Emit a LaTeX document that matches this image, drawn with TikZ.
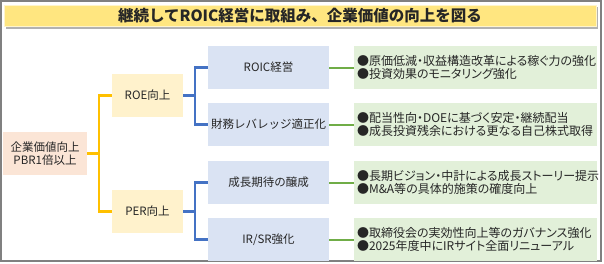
\documentclass[tikz,border=0pt]{standalone}
\usepackage{fontspec}
\setmainfont{Noto Sans CJK JP}
\newfontfamily\notefont{Noto Sans CJK JP}[RawFeature=+palt]
\usepackage{tikz}
\usetikzlibrary{shadows}
\definecolor{frame}{HTML}{808080}
\definecolor{titlefill}{HTML}{FFE680}
\definecolor{topfill}{HTML}{FBE5D6}
\definecolor{midfill}{HTML}{FFF2CC}
\definecolor{subfill}{HTML}{DAE3F3}
\definecolor{notefill}{HTML}{E2F0D9}
\definecolor{orangeln}{HTML}{FFC000}
\definecolor{blueln}{HTML}{4472C4}
\definecolor{greenln}{HTML}{70AD47}
\definecolor{ink}{HTML}{262626}

\begin{document}
\begin{tikzpicture}[x=1pt, y=-1pt, text=ink, font=\fontsize{11.5}{13.5}\selectfont,
  box/.style={inner sep=1pt, minimum height=43pt, align=center},
  topbox/.style={box, fill=topfill, minimum width=84pt},
  midbox/.style={box, fill=midfill, minimum width=71pt},
  subbox/.style={box, fill=subfill, minimum width=121pt},
  notebox/.style={box, fill=notefill, minimum width=243pt, align=left, text width=237pt,
    font=\notefont\fontsize{12}{13.5}\selectfont},
  oline/.style={draw=orangeln, line width=2.4pt},
  bline/.style={draw=blueln, line width=2.4pt},
  gline/.style={draw=greenln, line width=2pt}]
\path[use as bounding box] (0,0) rectangle (604,263);
\draw[frame, line width=1.2pt] (1,1) rectangle (601,261);
\node[fill=titlefill, draw=titlefill!40, line width=0.8pt, minimum width=592pt, minimum height=20pt,
  drop shadow={shadow xshift=2pt, shadow yshift=-2pt, fill=black!30, opacity=1},
  font=\fontsize{15.5}{17}\selectfont\bfseries] (title) at (300,16) {継続してROIC経営に取組み、企業価値の向上を図る};

\node[topbox] (pbr) at (45,153.5) {企業価値向上\\PBR1倍以上};
\node[midbox] (roe) at (147.5,95.5) {ROE向上};
\node[midbox] (per) at (147.5,211.5) {PER向上};

\node[subbox] (roic) at (268.5,67.5) {ROIC経営};
\node[subbox] (lev) at (268.5,124.5) {財務レバレッジ適正化};
\node[subbox] (grow) at (268.5,182.5) {成長期待の醸成};
\node[subbox] (irsr) at (268.5,239.5) {IR/SR強化};

\node[notebox] (roicnote) at (475.5,67.5) {●原価低減・収益構造改革による稼ぐ力の強化\\●投資効果のモニタリング強化};
\node[notebox] (levnote) at (475.5,124.5) {●配当性向・DOEに基づく安定・継続配当\\●成長投資残余における更なる自己株式取得};
\node[notebox] (grownote) at (475.5,182.5) {●長期ビジョン・中計による成長ストーリー提示\\●M\&A等の具体的施策の確度向上};
\node[notebox] (irsrnote) at (475.5,239.5) {●取締役会の実効性向上等のガバナンス強化\\●2025年度中にIRサイト全面リニューアル};

% tree connectors
\draw[oline] (pbr.east) -- ++(12,0) |- (roe.west);
\draw[oline] (pbr.east) -- ++(12,0) |- (per.west);
\draw[bline] (roe.east) -- ++(12,0) |- (roic.west);
\draw[bline] (roe.east) -- ++(12,0) |- (lev.west);
\draw[bline] (per.east) -- ++(12,0) |- (grow.west);
\draw[bline] (per.east) -- ++(12,0) |- (irsr.west);
\draw[gline] (roic.east) -- (roicnote.west);
\draw[gline] (lev.east) -- (levnote.west);
\draw[gline] (grow.east) -- (grownote.west);
\draw[gline] (irsr.east) -- (irsrnote.west);
\end{tikzpicture}
\end{document}
